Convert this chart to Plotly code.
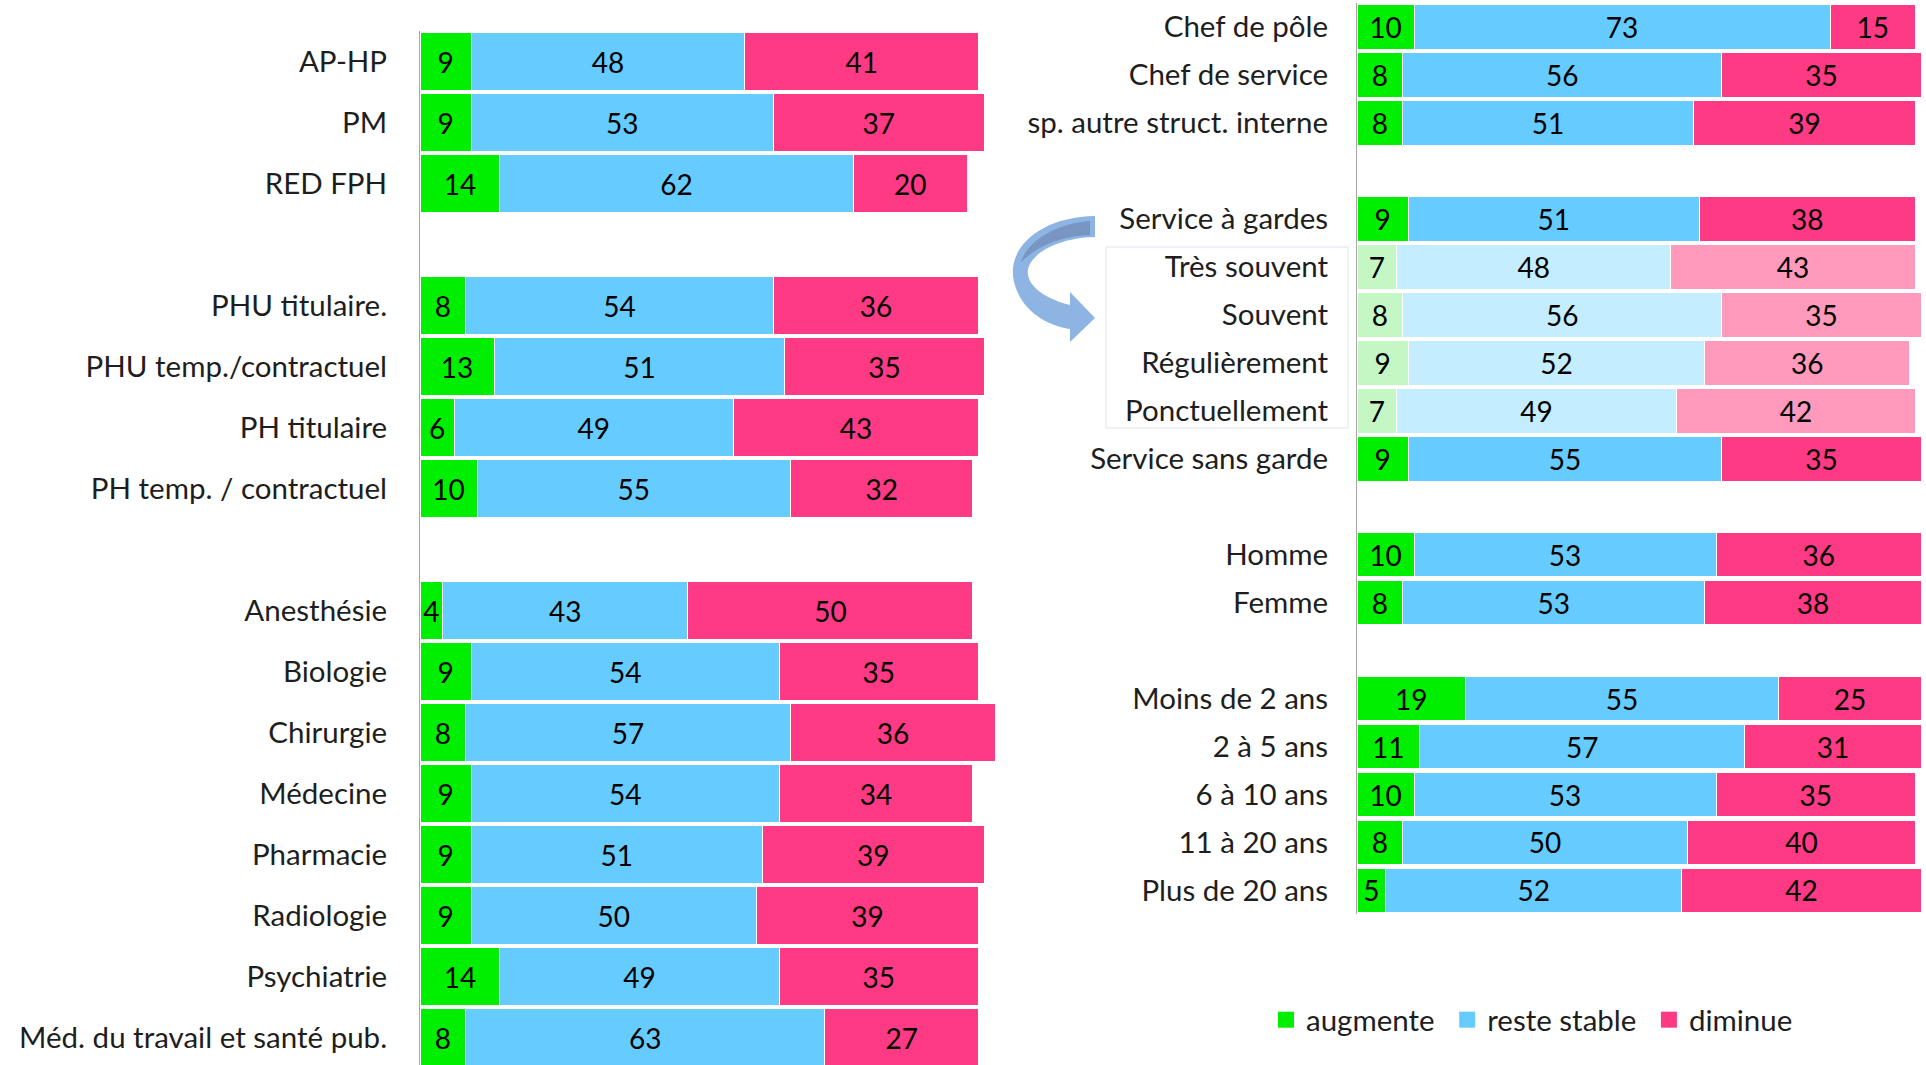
import plotly.graph_objects as go

# ---------------- data ----------------
left_groups = [
    ["AP-HP", "PM", "RED FPH"],
    ["PHU titulaire.", "PHU temp./contractuel", "PH titulaire", "PH temp. / contractuel"],
    ["Anesthésie", "Biologie", "Chirurgie", "Médecine", "Pharmacie", "Radiologie",
     "Psychiatrie", "Méd. du travail et santé pub."],
]
left_aug = [9, 9, 14, 8, 13, 6, 10, 4, 9, 8, 9, 9, 9, 14, 8]
left_stable = [48, 53, 62, 54, 51, 49, 55, 43, 54, 57, 54, 51, 50, 49, 63]
left_dim = [41, 37, 20, 36, 35, 43, 32, 50, 35, 36, 34, 39, 39, 35, 27]

right_groups = [
    ["Chef de pôle", "Chef de service", "sp. autre struct. interne"],
    ["Service à gardes", "Très souvent", "Souvent", "Régulièrement", "Ponctuellement",
     "Service sans garde"],
    ["Homme", "Femme"],
    ["Moins de 2 ans", "2 à 5 ans", "6 à 10 ans", "11 à 20 ans", "Plus de 20 ans"],
]
right_aug = [10, 8, 8, 9, 7, 8, 9, 7, 9, 10, 8, 19, 11, 10, 8, 5]
right_stable = [73, 56, 51, 51, 48, 56, 52, 49, 55, 53, 53, 55, 57, 53, 50, 52]
right_dim = [15, 35, 39, 38, 43, 35, 36, 42, 35, 36, 38, 25, 31, 35, 40, 42]

sub_rows = ["Très souvent", "Souvent", "Régulièrement", "Ponctuellement"]

series_names = ["augmente", "reste stable", "diminue"]

# ---------------- style ----------------
FONT = "Lato"
TXT = "#1e1e1e"
LBL = 29.5
colors = ["#00EE00", "#66CCFF", "#FF3A85"]
light_colors = ["#C4F7C4", "#C4EEFF", "#FF9ABD"]
W, H = 1926, 1065


def positions(groups):
    labels, pos = [], []
    p = 0
    for gi, g in enumerate(groups):
        if gi > 0:
            p += 1
        for lab in g:
            labels.append(lab)
            pos.append(p)
            p += 1
    return labels, pos


left_labels, left_pos = positions(left_groups)
right_labels, right_pos = positions(right_groups)

fig = go.Figure()

for side, labels, pos, vals, xa, ya, bw in [
    ("L", left_labels, left_pos, [left_aug, left_stable, left_dim], "x", "y", 0.95),
    ("R", right_labels, right_pos, [right_aug, right_stable, right_dim], "x2", "y2", 0.93),
]:
    for k in range(3):
        cols = [light_colors[k] if lab in sub_rows else colors[k] for lab in labels]
        fig.add_trace(go.Bar(
            y=pos, x=vals[k], orientation="h", name=series_names[k],
            xaxis=xa, yaxis=ya, width=bw,
            marker=dict(color=cols, line=dict(color="white", width=1)),
            text=vals[k], textposition="inside", insidetextanchor="middle",
            textfont=dict(family=FONT, size=28, color="black"),
            showlegend=False,
            hoverinfo="skip",
        ))

# pixel overlay axis for decorations
fig.update_layout(
    xaxis3=dict(domain=[0, 1], range=[0, W], visible=False, fixedrange=True),
    yaxis3=dict(domain=[0, 1], range=[H, 0], visible=False, fixedrange=True, anchor="x3"),
)
fig.add_trace(go.Scatter(x=[0], y=[0], xaxis="x3", yaxis="y3", mode="markers",
                         marker=dict(opacity=0), showlegend=False, hoverinfo="skip"))

# legend entries (square swatches)
for k in range(3):
    fig.add_trace(go.Scatter(
        x=[None], y=[None], xaxis="x3", yaxis="y3", mode="markers",
        name=series_names[k] + "\u00a0",
        marker=dict(symbol="square", size=16, color=colors[k]),
        showlegend=True, hoverinfo="skip",
    ))

# curved arrow
arrow = ("M 1095 216 C 1040 217, 1006 248, 1014 282 C 1021 310, 1045 325, 1070 329 "
         "L 1070 342 L 1095 318 L 1070 292 L 1070 305 C 1050 300, 1031 290, 1028 275 "
         "C 1025 258, 1052 238, 1095 237 Z")
dark = ("M 1090 221 L 1090 235 C 1060 236, 1036 247, 1021 262 "
        "C 1026 244, 1052 224, 1090 221 Z")
fig.add_shape(type="path", path=arrow, xref="x3", yref="y3",
              fillcolor="#8DB4E2", line=dict(width=0), layer="above")
fig.add_shape(type="path", path=dark, xref="x3", yref="y3",
              fillcolor="#7895C4", line=dict(width=0), layer="above")
# box around sub labels
fig.add_shape(type="rect", x0=1106, x1=1348, y0=247, y1=428, xref="x3", yref="y3",
              line=dict(color="#DDE3EE", width=1), fillcolor="rgba(0,0,0,0)")

pitch_l = 61.0
top_l = 31
pitch_r = 47.97
top_r = 3
bot_r = top_r + pitch_r * 19

fig.update_layout(
    width=W, height=H, margin=dict(l=0, r=0, t=0, b=0),
    paper_bgcolor="white", plot_bgcolor="rgba(0,0,0,0)",
    barmode="stack",
    font=dict(family=FONT, size=LBL, color=TXT),
    uniformtext=dict(minsize=28, mode="show"),
    xaxis=dict(domain=[420 / W, 1000 / W], range=[0, 580 / 5.70], visible=False,
               fixedrange=True),
    yaxis=dict(domain=[0, 1 - top_l / H], range=[-0.5 + (H - top_l) / pitch_l, -0.5],
               tickmode="array", tickvals=left_pos, ticktext=left_labels,
               showline=True, linecolor="#A6A6A6", linewidth=1, showgrid=False,
               zeroline=False, ticks="", ticklabelstandoff=26,
               tickfont=dict(family=FONT, size=LBL, color=TXT), fixedrange=True),
    xaxis2=dict(domain=[1357 / W, 1.0], range=[0, 569 / 5.70], visible=False,
                fixedrange=True),
    yaxis2=dict(domain=[1 - bot_r / H, 1 - top_r / H], range=[18.5, -0.5], anchor="x2",
                tickmode="array", tickvals=right_pos, ticktext=right_labels,
                showline=True, linecolor="#A6A6A6", linewidth=1, showgrid=False,
                zeroline=False, ticks="", ticklabelstandoff=22,
                tickfont=dict(family=FONT, size=LBL, color=TXT), fixedrange=True),
    legend=dict(orientation="h", x=1266 / W, xanchor="left", y=1 - 1020 / H,
                yanchor="middle", font=dict(family=FONT, size=LBL, color=TXT),
                traceorder="normal", itemwidth=30, bgcolor="rgba(0,0,0,0)"),
    showlegend=True,
)

fig.write_html("out.html", config={"displayModeBar": False},
               post_script="document.body.style.margin='0';")
